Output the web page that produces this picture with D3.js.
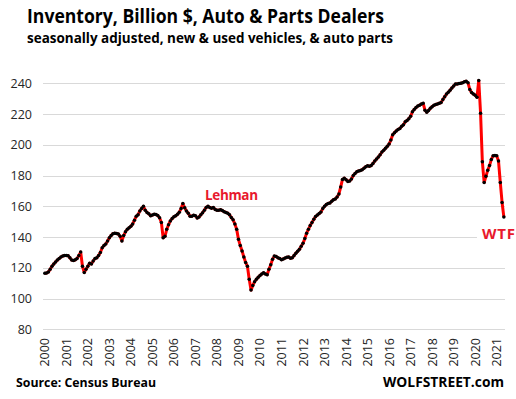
<!DOCTYPE html>
<html>
<head>
<meta charset="utf-8">
<script src="https://cdn.jsdelivr.net/npm/d3@7"></script>
<style>
    body { margin: 0; background: #fff; }
    svg { display: block; font-family: "Open Sans", "Noto Sans", sans-serif; }
</style>
</head>
<body>
<svg width="516" height="399"></svg>
<script>
// monthly inventory, billion $, Jan 2000 .. May 2021
const inv2000 = [116.4, 116.6, 117.3, 119.0, 121.0, 122.5, 123.8, 125.0, 126.0, 127.0, 127.6, 128.0];
const inv2001 = [128.0, 127.8, 126.5, 125.0, 124.7, 125.2, 126.0, 128.0, 130.2, 121.0, 117.0, 119.0];
const inv2002 = [121.0, 123.0, 122.5, 124.5, 126.0, 126.5, 128.0, 130.0, 133.0, 134.5, 135.5, 137.5];
const inv2003 = [139.5, 141.0, 142.2, 142.5, 142.3, 142.0, 140.5, 137.5, 141.0, 143.5, 145.0, 146.0];
const inv2004 = [147.0, 148.5, 151.0, 153.5, 154.5, 157.0, 158.5, 160.0, 157.5, 156.0, 155.2, 153.8];
const inv2005 = [154.3, 154.8, 154.6, 154.0, 152.5, 149.5, 139.5, 140.5, 145.0, 148.0, 150.5, 152.0];
const inv2006 = [153.2, 153.8, 154.8, 156.2, 158.5, 161.8, 159.0, 157.0, 155.5, 153.5, 153.6, 154.2];
const inv2007 = [153.8, 152.4, 153.0, 154.5, 155.8, 157.5, 159.3, 160.0, 159.2, 158.8, 159.2, 158.0];
const inv2008 = [157.5, 157.5, 157.8, 157.2, 156.5, 156.0, 155.5, 154.5, 152.7, 151.2, 148.5, 145.0];
const inv2009 = [138.5, 134.5, 131.0, 127.0, 123.5, 121.0, 112.5, 105.5, 108.5, 111.0, 112.5, 113.8];
const inv2010 = [115.0, 116.0, 116.7, 116.0, 115.5, 119.0, 122.0, 125.5, 127.6, 127.3, 126.5, 126.0];
const inv2011 = [125.3, 125.8, 126.3, 126.8, 127.0, 126.2, 126.5, 128.0, 129.5, 130.8, 132.0, 134.0];
const inv2012 = [136.0, 139.0, 142.5, 145.0, 147.5, 149.5, 151.5, 153.4, 154.3, 155.3, 156.3, 158.5];
const inv2013 = [160.0, 161.2, 161.8, 162.1, 163.3, 164.3, 164.8, 166.0, 168.0, 172.5, 177.5, 178.3];
const inv2014 = [177.3, 176.2, 176.5, 177.8, 180.0, 181.3, 182.5, 183.0, 183.3, 183.8, 184.8, 185.8];
const inv2015 = [186.3, 186.0, 186.5, 187.8, 189.5, 190.8, 192.0, 193.5, 195.3, 196.5, 197.8, 199.0];
const inv2016 = [200.5, 203.2, 206.5, 207.9, 209.0, 210.0, 210.6, 212.0, 213.0, 215.0, 215.8, 217.0];
const inv2017 = [218.5, 221.5, 223.0, 224.2, 225.2, 225.8, 226.5, 227.0, 222.5, 221.2, 222.3, 223.8];
const inv2018 = [224.8, 225.7, 226.2, 226.6, 227.0, 227.5, 229.5, 231.3, 233.0, 234.2, 235.5, 237.0];
const inv2019 = [238.3, 239.6, 239.6, 239.8, 240.0, 240.4, 241.0, 241.3, 240.3, 236.0, 234.0, 233.0];
const inv2020 = [232.3, 231.0, 241.8, 220.5, 189.0, 175.5, 179.5, 183.5, 186.5, 190.5, 192.8, 193.0];
const inv2021 = [192.8, 189.5, 175.5, 162.5, 153.0];

const yearLabels = d3.range(2000, 2022).map(String);
const yTicks = [80, 100, 120, 140, 160, 180, 200, 220, 240];

const allYears = [inv2000, inv2001, inv2002, inv2003, inv2004, inv2005, inv2006, inv2007,
    inv2008, inv2009, inv2010, inv2011, inv2012, inv2013, inv2014, inv2015, inv2016,
    inv2017, inv2018, inv2019, inv2020, inv2021];

const data = [];
allYears.forEach((arr, yi) => {
    arr.forEach((v, m) => data.push({ idx: yi * 12 + m, value: v }));
});

const svg = d3.select("svg");

// plot box
const plot = { left: 43, right: 505, top: 83.3, bottom: 329.3 };

const xScale = d3.scaleLinear()
    .domain([0, 252])
    .range([44.8, 496.7]);

const yScale = d3.scaleLinear()
    .domain([80, 240])
    .range([plot.bottom, plot.top]);

// gridlines
svg.append("g")
    .selectAll("line")
    .data(yTicks)
    .enter()
    .append("line")
    .attr("x1", plot.left)
    .attr("x2", plot.right)
    .attr("y1", d => Math.round(yScale(d)) + 0.5)
    .attr("y2", d => Math.round(yScale(d)) + 0.5)
    .attr("stroke", "#d9d9d9")
    .attr("stroke-width", 1);

// y axis labels
const yAxis = d3.axisLeft(yScale).tickValues(yTicks).tickSize(0).tickPadding(0);
svg.append("g")
    .attr("transform", "translate(32,0)")
    .call(yAxis)
    .call(g => g.select(".domain").remove())
    .selectAll("text")
    .attr("fill", "#262626")
    .style("font-size", "12.5px")
    .style("font-family", "'Open Sans', sans-serif");

// x axis labels, rotated
svg.append("g")
    .selectAll("text")
    .data(yearLabels)
    .enter()
    .append("text")
    .attr("transform", (d, i) => "translate(" + (xScale(i * 12) + 4.5) + ",338) rotate(-90)")
    .attr("text-anchor", "end")
    .attr("fill", "#262626")
    .style("font-size", "12.5px")
    .text(d => d);

// the line
const line = d3.line()
    .x(d => xScale(d.idx))
    .y(d => yScale(d.value));

svg.append("path")
    .datum(data)
    .attr("fill", "none")
    .attr("stroke", "#ff0000")
    .attr("stroke-width", 3)
    .attr("stroke-linejoin", "round")
    .attr("d", line);

svg.append("g")
    .selectAll("circle")
    .data(data)
    .enter()
    .append("circle")
    .attr("cx", d => xScale(d.idx))
    .attr("cy", d => yScale(d.value))
    .attr("r", 1.75)
    .attr("fill", "#000");

// annotations
svg.append("text")
    .attr("x", 205)
    .attr("y", 199.5)
    .attr("fill", "#e8192c")
    .style("font-size", "13.5px")
    .style("font-weight", "bold")
    .attr("textLength", 53)
    .text("Lehman");

svg.append("rect")
    .attr("x", 477)
    .attr("y", 224)
    .attr("width", 39)
    .attr("height", 20)
    .attr("fill", "#fff");

svg.append("text")
    .attr("x", 482)
    .attr("y", 239)
    .attr("fill", "#e8192c")
    .style("font-size", "15px")
    .style("font-weight", "bold")
    .attr("textLength", 33)
    .text("WTF");

// titles
svg.append("text")
    .attr("x", 27)
    .attr("y", 22.7)
    .attr("fill", "#000")
    .style("font-size", "19px")
    .style("font-weight", "bold")
    .attr("textLength", 357)
    .attr("lengthAdjust", "spacingAndGlyphs")
    .text("Inventory, Billion $, Auto & Parts Dealers");

svg.append("text")
    .attr("x", 27)
    .attr("y", 42.7)
    .attr("fill", "#000")
    .style("font-size", "13.5px")
    .style("font-weight", "bold")
    .attr("textLength", 366)
    .attr("lengthAdjust", "spacingAndGlyphs")
    .text("seasonally adjusted, new & used vehicles, & auto parts");

svg.append("text")
    .attr("x", 16)
    .attr("y", 387)
    .attr("fill", "#000")
    .style("font-size", "13px")
    .style("font-weight", "bold")
    .attr("textLength", 140)
    .attr("lengthAdjust", "spacingAndGlyphs")
    .text("Source: Census Bureau");

svg.append("text")
    .attr("x", 383)
    .attr("y", 387)
    .attr("fill", "#000")
    .style("font-size", "13.5px")
    .style("font-weight", "bold")
    .attr("textLength", 121)
    .attr("lengthAdjust", "spacingAndGlyphs")
    .text("WOLFSTREET.com");
</script>
</body>
</html>
